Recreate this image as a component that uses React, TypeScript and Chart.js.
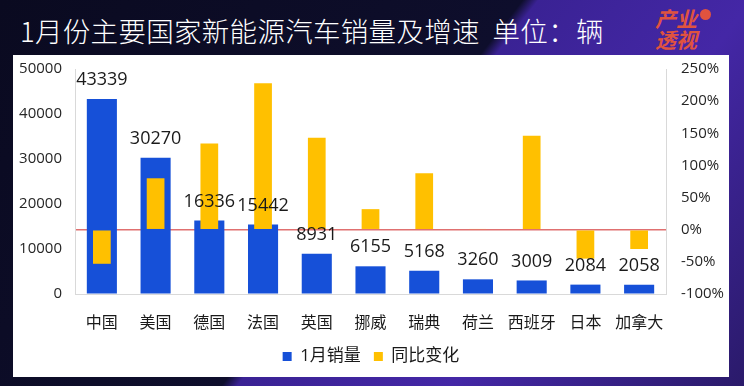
import React, { useEffect, useRef } from "react";
import { Chart, registerables } from "chart.js";

Chart.register(...registerables);

const categories = ["中国", "美国", "德国", "法国", "英国", "挪威", "瑞典", "荷兰", "西班牙", "日本", "加拿大"];
const salesJan = [43339, 30270, 16336, 15442, 8931, 6155, 5168, 3260, 3009, 2084, 2058];
const yoyChange = [-53, 80, 134, 228, 143, 32, 88, 1, 146, -45, -30];
const seriesNames = ["1月销量", "同比变化"];
const titleText = "1月份主要国家新能源汽车销量及增速  单位：辆";

const FONT = '"Open Sans", "Noto Sans CJK SC", sans-serif';
const BLUE = "#1650d8";
const GOLD = "#ffc000";
const CLEAR = "rgba(0,0,0,0)";

const valueLabels = {
  id: "valueLabels",
  afterDatasetsDraw(chart: any) {
    const meta = chart.getDatasetMeta(0);
    const ctx = chart.ctx;
    ctx.save();
    ctx.font = `18px ${FONT}`;
    ctx.fillStyle = "#1a1a1a";
    ctx.textAlign = "center";
    ctx.textBaseline = "middle";
    meta.data.forEach((bar: any, i: number) => {
      ctx.fillText(String(salesJan[i]), bar.x, bar.y - 19);
    });
    ctx.restore();
  },
};

export default function App() {
  const ref = useRef<HTMLCanvasElement>(null);

  useEffect(() => {
    document.body.style.margin = "0";
    const chart = new Chart(ref.current as HTMLCanvasElement, {
      type: "bar",
      data: {
        labels: categories,
        datasets: [
          {
            label: seriesNames[0],
            data: salesJan,
            backgroundColor: BLUE,
            yAxisID: "y",
            barPercentage: 0.56,
            categoryPercentage: 1,
            grouped: false,
            order: 1,
          } as any,
          {
            label: seriesNames[1],
            data: yoyChange,
            backgroundColor: GOLD,
            yAxisID: "y1",
            barPercentage: 0.33,
            categoryPercentage: 1,
            grouped: false,
            order: 0,
          } as any,
        ],
      },
      options: {
        responsive: false,
        animation: false,
        layout: { padding: { top: 14, left: 0, right: 0, bottom: 2 } },
        plugins: {
          tooltip: { enabled: false },
          legend: {
            position: "bottom",
            labels: {
              font: { family: FONT, size: 17 },
              color: "#1a1a1a",
              boxWidth: 9,
              boxHeight: 9,
              padding: 13,
              sort: (a: any, b: any) => a.datasetIndex - b.datasetIndex,
            },
          },
        },
        scales: {
          x: {
            grid: { display: false, drawTicks: false },
            border: { color: "#d9d9d9" },
            ticks: {
              font: { family: FONT, size: 16 },
              color: "#1a1a1a",
              padding: 20,
              maxRotation: 0,
              minRotation: 0,
              autoSkip: false,
            },
            afterFit: (s: any) => {
              s.height = 41;
            },
          },
          y: {
            position: "left",
            min: 0,
            max: 50000,
            ticks: {
              stepSize: 10000,
              font: { family: FONT, size: 15 },
              color: "#262626",
              padding: 0,
              callback: (v: any) => String(v),
            },
            grid: { drawOnChartArea: false, drawTicks: true, tickLength: 13, tickColor: CLEAR },
            border: { color: "#d9d9d9" },
            afterFit: (s: any) => {
              s.width = 62;
            },
          },
          y1: {
            position: "right",
            min: -100,
            max: 250,
            ticks: {
              stepSize: 50,
              font: { family: FONT, size: 15 },
              color: "#262626",
              padding: 0,
              callback: (v: any) => v + "%",
            },
            grid: {
              drawOnChartArea: true,
              drawTicks: true,
              tickLength: 15,
              tickColor: CLEAR,
              color: (c: any) => (c.tick && c.tick.value === 0 ? "#e07070" : CLEAR),
              lineWidth: 1.5,
            },
            border: { color: "#d9d9d9" },
            afterFit: (s: any) => {
              s.width = 63;
            },
          },
        },
      },
      plugins: [valueLabels],
    });
    return () => chart.destroy();
  }, []);

  return (
    <div
      style={{
        position: "relative",
        width: 744,
        height: 386,
        overflow: "hidden",
        background:
          "linear-gradient(128deg, #0a0a20 0%, #0e0e2c 50%, #3a2294 51.5%, #4427a6 72%, #2a1a6a 100%)",
      }}
    >
      <div
        style={{
          position: "absolute",
          left: 20,
          top: 8,
          color: "#ffffff",
          fontSize: 27.5,
          letterSpacing: 0.3,
          fontWeight: 300,
          lineHeight: "44px",
          fontFamily: '"Noto Sans CJK SC", sans-serif',
          whiteSpace: "pre",
        }}
      >
        {titleText}
      </div>
      <div
        style={{
          position: "absolute",
          left: 655,
          top: 8,
          color: "#e0533f",
          fontSize: 21,
          lineHeight: "21px",
          fontWeight: 700,
          fontFamily: '"Noto Sans CJK SC", sans-serif',
          fontStyle: "italic",
        }}
      >
        <div>产业</div>
        <div>透视</div>
      </div>
      <div
        style={{
          position: "absolute",
          left: 700,
          top: 9,
          width: 11,
          height: 11,
          borderRadius: 6,
          background: "#e0533f",
        }}
      />
      <div
        style={{
          position: "absolute",
          left: 13,
          top: 55,
          width: 716,
          height: 322,
          background: "#ffffff",
        }}
      >
        <canvas ref={ref} width={716} height={322} style={{ display: "block" }} />
      </div>
    </div>
  );
}
